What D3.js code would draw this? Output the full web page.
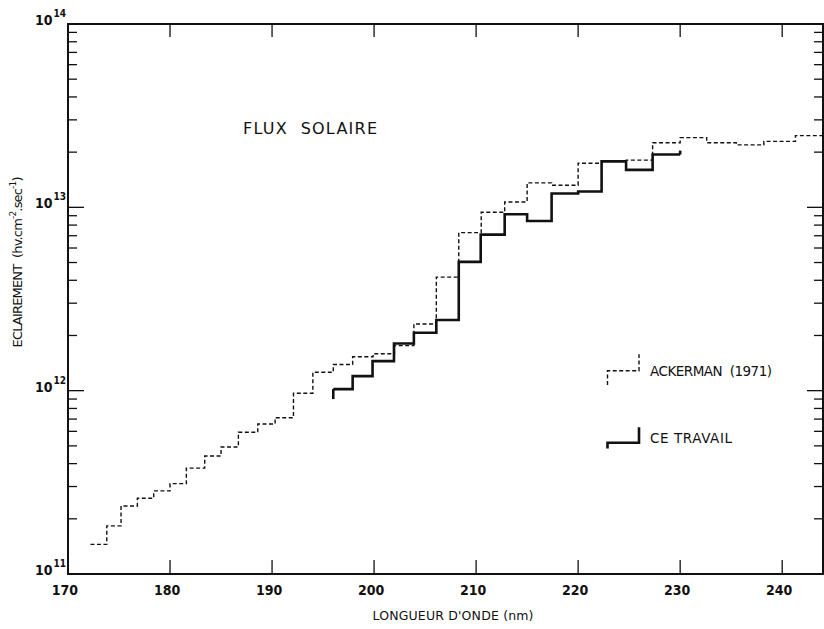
<!DOCTYPE html>
<html>
<head>
<meta charset="utf-8">
<script src="https://cdn.jsdelivr.net/npm/d3@7"></script>
<style>
  body { margin: 0; background: #fff; }
  text { fill: #111; white-space: pre; }
</style>
</head>
<body>
<svg id="chart" width="824" height="629"></svg>
<script>
// Solar irradiance, photons cm^-2 s^-1 per wavelength interval (nm)
const ackermanEdges = [172.2, 173.8, 175.2, 176.8, 178.4, 180.0, 181.6, 183.4, 185.0, 186.7,
  188.6, 190.3, 192.1, 194.0, 196.0, 197.9, 199.9, 202.0, 203.9, 206.1,
  208.3, 210.5, 212.8, 215.0, 217.4, 220.0, 222.3, 224.7, 227.3, 230.0,
  232.6, 235.5, 238.2, 241.3, 244.0];
const ackermanFlux = [1.45e11, 1.83e11, 2.35e11, 2.59e11, 2.84e11, 3.11e11, 3.78e11, 4.40e11, 4.93e11, 5.93e11,
  6.58e11, 7.12e11, 9.68e11, 1.26e12, 1.39e12, 1.53e12, 1.59e12, 1.76e12, 2.31e12, 4.16e12,
  7.28e12, 9.40e12, 1.07e13, 1.36e13, 1.32e13, 1.74e13, 1.78e13, 1.81e13, 2.25e13, 2.40e13,
  2.25e13, 2.19e13, 2.29e13, 2.46e13];

const travailEdges = [196.0, 197.9, 199.85, 201.95, 203.9, 206.1, 208.3, 210.45, 212.8, 215.0,
  217.4, 220.0, 222.3, 224.7, 227.3, 230.0];
const travailFlux = [1.02e12, 1.20e12, 1.45e12, 1.81e12, 2.07e12, 2.43e12, 5.04e12, 7.10e12, 9.16e12, 8.43e12,
  1.19e13, 1.22e13, 1.78e13, 1.60e13, 1.94e13];

const xTicks = [170, 180, 190, 200, 210, 220, 230, 240];
const yDecades = [11, 12, 13, 14];

const svg = d3.select("#chart");
const frame = { left: 68, right: 823, top: 24, bottom: 574 };

const x = d3.scaleLinear().domain([170, 244]).range([frame.left, frame.right]);
const y = d3.scaleLog().domain([1e11, 1e14]).range([frame.bottom, frame.top]);

const numFont = "'Liberation Sans Narrow', 'DejaVu Sans Condensed', sans-serif";
const txtFont = "'DejaVu Sans', 'Liberation Sans', sans-serif";

svg.append("defs").append("clipPath").attr("id", "plotClip")
  .append("rect")
  .attr("x", frame.left).attr("y", frame.top)
  .attr("width", frame.right - frame.left).attr("height", frame.bottom - frame.top);

// Frame
svg.append("rect")
  .attr("x", frame.left).attr("y", frame.top)
  .attr("width", frame.right - frame.left).attr("height", frame.bottom - frame.top)
  .attr("fill", "none").attr("stroke", "#111").attr("stroke-width", 2);

// Wavelength ticks, bottom and top, pointing inward
const xt = svg.append("g").attr("stroke", "#111").attr("stroke-width", 1.3);
xTicks.filter(v => v > 170).forEach(v => {
  xt.append("line").attr("x1", x(v)).attr("x2", x(v))
    .attr("y1", frame.bottom).attr("y2", frame.bottom - 14);
  xt.append("line").attr("x1", x(v)).attr("x2", x(v))
    .attr("y1", frame.top).attr("y2", frame.top + 13);
});

svg.append("g").selectAll("text").data(xTicks).join("text")
  .attr("x", d => x(d) - 3).attr("y", 595)
  .attr("text-anchor", "middle")
  .attr("font-family", numFont).attr("font-size", 14).attr("font-weight", "bold")
  .text(d => d);

// Logarithmic ticks on both sides
const yt = svg.append("g").attr("stroke", "#111").attr("stroke-width", 1.3);
y.ticks().forEach(v => {
  const exp = Math.log10(v);
  const major = Math.abs(exp - Math.round(exp)) < 1e-9;
  if (v <= 1e11 || v >= 1e14) return;
  const len = major ? 16 : 9;
  yt.append("line").attr("x1", frame.left).attr("x2", frame.left + len)
    .attr("y1", y(v)).attr("y2", y(v));
  yt.append("line").attr("x1", frame.right).attr("x2", frame.right - len)
    .attr("y1", y(v)).attr("y2", y(v));
});

const yl = svg.append("g").attr("font-family", numFont).attr("font-weight", "bold");
yDecades.forEach(e => {
  const t = yl.append("text").attr("x", 35).attr("y", y(Math.pow(10, e)) + 1)
    .attr("font-size", 14);
  t.append("tspan").text("10");
  t.append("tspan").attr("dy", -8).attr("font-size", 10).attr("dx", 1).text(e);
});

// Step curves
const stepLine = d3.line()
  .x(d => x(d[0])).y(d => y(d[1]))
  .curve(d3.curveStepAfter);

function stepPoints(edges, vals) {
  return edges.map((e, i) => [e, vals[Math.min(i, vals.length - 1)]]);
}

const plot = svg.append("g").attr("clip-path", "url(#plotClip)");

plot.append("path")
  .attr("d", stepLine(stepPoints(ackermanEdges, ackermanFlux)))
  .attr("fill", "none").attr("stroke", "#111")
  .attr("stroke-width", 1.4).attr("stroke-dasharray", "4,2.5");

const tp = stepPoints(travailEdges, travailFlux);
plot.append("path")
  .attr("d", stepLine(tp))
  .attr("fill", "none").attr("stroke", "#111")
  .attr("stroke-width", 2.6).attr("stroke-linejoin", "miter");

// short end strokes of the measured curve
const first = tp[0], last = tp[tp.length - 1];
plot.append("line")
  .attr("x1", x(first[0])).attr("x2", x(first[0]))
  .attr("y1", y(first[1])).attr("y2", y(first[1]) + 10)
  .attr("stroke", "#111").attr("stroke-width", 2.6);
plot.append("line")
  .attr("x1", x(last[0])).attr("x2", x(last[0]))
  .attr("y1", y(last[1])).attr("y2", y(last[1]) - 4)
  .attr("stroke", "#111").attr("stroke-width", 2.6);

// Title
svg.append("text").attr("x", 243).attr("y", 133.5)
  .attr("font-family", txtFont).attr("font-size", 16)
  .attr("textLength", 134).attr("lengthAdjust", "spacing")
  .text("FLUX  SOLAIRE");

// Legend
const lg = svg.append("g");
lg.append("path")
  .attr("d", "M607.5,385 V370.7 H639 V354.3")
  .attr("fill", "none").attr("stroke", "#111")
  .attr("stroke-width", 1.4).attr("stroke-dasharray", "4,2.5");
lg.append("text").attr("x", 650).attr("y", 376)
  .attr("font-family", txtFont).attr("font-size", 13.5)
  .attr("textLength", 122).attr("lengthAdjust", "spacing")
  .text("ACKERMAN  (1971)");

lg.append("path")
  .attr("d", "M607.5,448.5 V442.7 H639 V427.3")
  .attr("fill", "none").attr("stroke", "#111").attr("stroke-width", 2.6);
lg.append("text").attr("x", 650).attr("y", 442.5)
  .attr("font-family", txtFont).attr("font-size", 13.5)
  .attr("textLength", 82).attr("lengthAdjust", "spacing")
  .text("CE TRAVAIL");

// Axis titles
svg.append("text").attr("x", 453).attr("y", 620)
  .attr("text-anchor", "middle")
  .attr("font-family", txtFont).attr("font-size", 12.5)
  .attr("textLength", 161).attr("lengthAdjust", "spacing")
  .text("LONGUEUR D'ONDE (nm)");

const yTitle = svg.append("text")
  .attr("transform", "translate(22,262) rotate(-90)")
  .attr("text-anchor", "middle")
  .attr("font-family", txtFont).attr("font-size", 13)
  .attr("textLength", 171).attr("lengthAdjust", "spacing");
yTitle.append("tspan").text("ECLAIREMENT  (hv.cm");
yTitle.append("tspan").attr("dy", -6).attr("font-size", 9).text("-2");
yTitle.append("tspan").attr("dy", 6).text(".sec");
yTitle.append("tspan").attr("dy", -6).attr("font-size", 9).text("-1");
yTitle.append("tspan").attr("dy", 6).text(")");
</script>
</body>
</html>
